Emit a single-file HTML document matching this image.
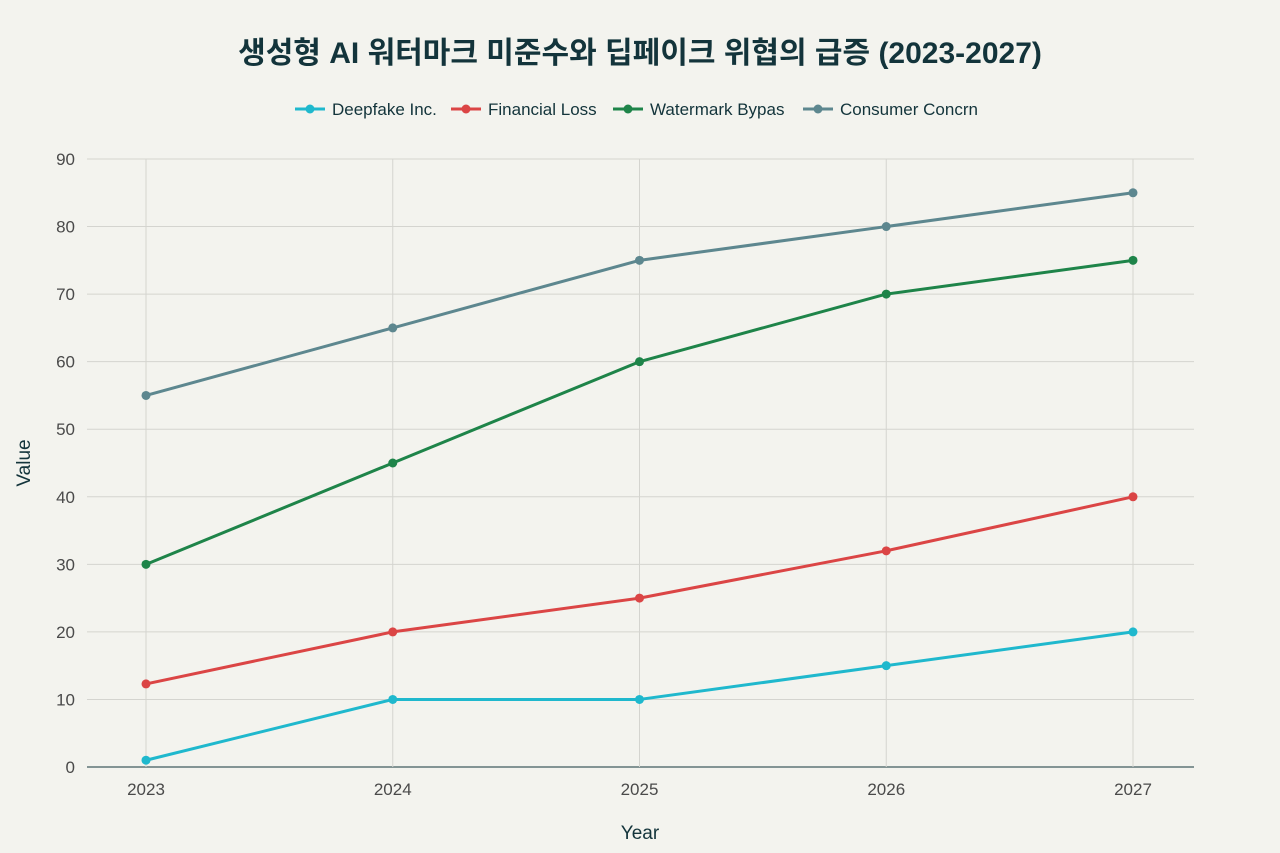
<!DOCTYPE html>
<html><head><meta charset="utf-8">
<style>
html,body{margin:0;padding:0;background:#f3f3ee;}
svg{display:block;font-family:"Liberation Sans","Noto Sans CJK KR",sans-serif;}
</style></head>
<body>
<svg id="chart" width="1280" height="853" viewBox="0 0 1280 853" xmlns="http://www.w3.org/2000/svg">
<rect width="1280" height="853" fill="#f3f3ee"/>
<text x="640" y="63" text-anchor="middle" font-size="30" font-weight="bold" fill="#13343b">생성형 AI 워터마크 미준수와 딥페이크 위협의 급증 (2023-2027)</text>
<g id="legend"></g>
<g id="grid"></g>
<g id="axes"></g>
<g id="series"></g>
<text x="640" y="839" text-anchor="middle" font-size="19" fill="#13343b">Year</text>
<text x="30" y="463" text-anchor="middle" font-size="19" fill="#13343b" transform="rotate(-90 30 463)">Value</text>
</svg>
<script>
const years = [2023, 2024, 2025, 2026, 2027];
const yTicks = [0, 10, 20, 30, 40, 50, 60, 70, 80, 90];
const seriesNames = ["Deepfake Inc.", "Financial Loss", "Watermark Bypas", "Consumer Concrn"];
const deepfake = [1, 10, 10, 15, 20];
const financial = [12.3, 20, 25, 32, 40];
const watermark = [30, 45, 60, 70, 75];
const consumer = [55, 65, 75, 80, 85];
const colors = ["#1fb8cd", "#db4545", "#1e8449", "#5d878f"];

const NS = "http://www.w3.org/2000/svg";
const X0 = 146, X1 = 1133, Y0 = 767, Y90 = 159;
function xs(i){ return X0 + (X1 - X0) * i / (years.length - 1); }
function ys(v){ return Y0 - (Y0 - Y90) * v / 90; }
function mk(tag, attrs, parent){ const e = document.createElementNS(NS, tag); for (const k in attrs) e.setAttribute(k, attrs[k]); parent.appendChild(e); return e; }

const grid = document.getElementById('grid');
const axes = document.getElementById('axes');
yTicks.forEach(t => {
  const l = mk('line', {x1: 87, x2: 1194, y1: ys(t), y2: ys(t), stroke: t === 0 ? '#13343b' : '#d4d4cf', 'stroke-width': 1}, grid);
  
  
  const tx = mk('text', {x: 75, y: ys(t) + 6, 'text-anchor': 'end', 'font-size': 17, fill: '#4a4a4a'}, axes);
  tx.textContent = t;
  
  
});
years.forEach((yr, i) => {
  const l = mk('line', {x1: xs(i), x2: xs(i), y1: 159, y2: 767, stroke: '#d4d4cf', 'stroke-width': 1}, grid);
  
  
  const tx = mk('text', {x: xs(i), y: 795, 'text-anchor': 'middle', 'font-size': 17, fill: '#4a4a4a'}, axes);
  tx.textContent = yr;
  
  
});

const data = [deepfake, financial, watermark, consumer];
const seriesG = document.getElementById('series');
data.forEach((vals, s) => {
  const g = mk('g', {}, seriesG);
  
  
  const pts = vals.map((v, i) => xs(i) + ',' + ys(v)).join(' ');
  const pl = mk('polyline', {points: pts, fill: 'none', stroke: colors[s], 'stroke-width': 3, 'stroke-linejoin': 'round'}, g);
  
  
  vals.forEach((v, i) => {
    const c = mk('circle', {cx: xs(i), cy: ys(v), r: 4.5, fill: colors[s]}, g);
    
    
  });
});

const legend = document.getElementById('legend');
const lx = [295, 451, 613, 803];
seriesNames.forEach((n, s) => {
  const g = mk('g', {}, legend);
  
  
  mk('line', {x1: lx[s], x2: lx[s] + 30, y1: 109, y2: 109, stroke: colors[s], 'stroke-width': 3}, g);
  mk('circle', {cx: lx[s] + 15, cy: 109, r: 4.5, fill: colors[s]}, g);
  const t = mk('text', {x: lx[s] + 37, y: 115, 'font-size': 17, fill: '#13343b'}, g);
  t.textContent = n;
});
</script>
</body></html>
